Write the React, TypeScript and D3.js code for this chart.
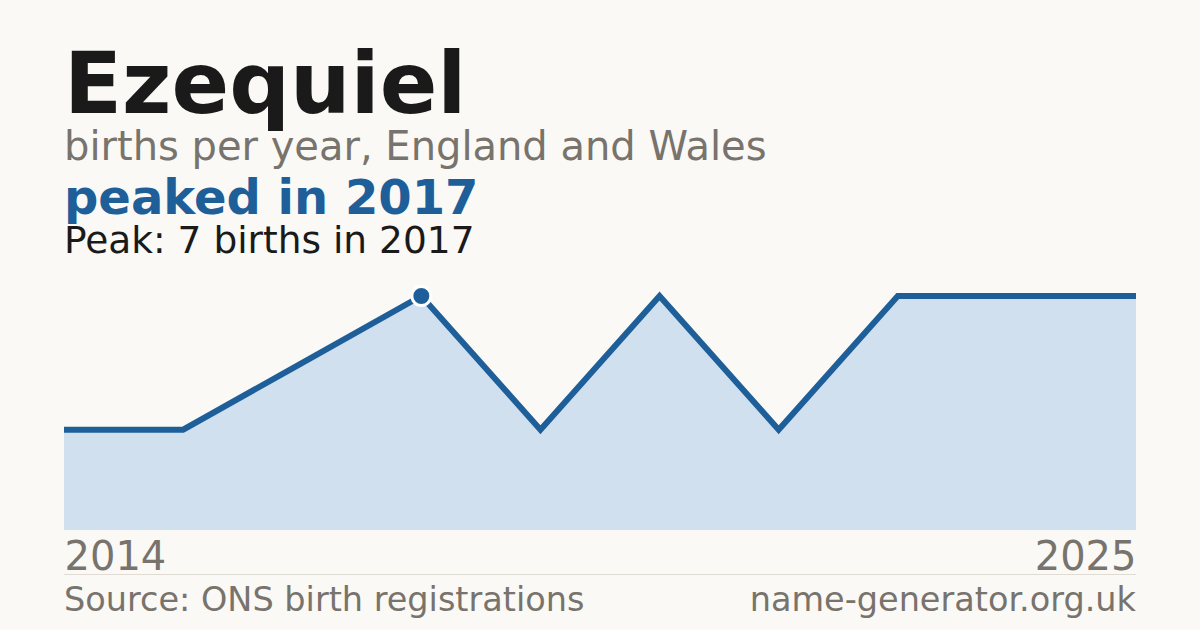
import { useEffect, useRef } from "react";
import * as d3 from "d3";

// years with a published count (gaps are years with fewer than 3 births)
const years = [2014, 2015, 2016, 2017, 2018, 2019, 2021, 2022, 2024, 2025];
const births = [3, 3, 5, 7, 3, 7, 3, 7, 7, 7];

const W = 1200;
const H = 630;
const dims = { left: 64, right: 1136, top: 296, bottom: 530 };

const BG = "#faf9f5";
const BLUE = "#1f5f99";
const GREY = "#78736c";
const FONT = "'DejaVu Sans', sans-serif";

const App = () => {
  const svgRef = useRef(null);

  useEffect(() => {
    document.body.style.margin = "0";
    const svg = d3.select(svgRef.current);
    svg.selectAll("*").remove();

    svg.append("rect").attr("width", W).attr("height", H).attr("fill", BG);

    const data = years.map((y, i) => ({ year: y, value: births[i] }));

    const xScale = d3
      .scalePoint()
      .domain(years.map(String))
      .range([dims.left, dims.right]);
    const yScale = d3
      .scaleLinear()
      .domain([0, d3.max(births)])
      .range([dims.bottom, dims.top]);

    const peakIdx = births.indexOf(d3.max(births));
    const peak = data[peakIdx];

    // header texts
    const text = (x, y, size, weight, fill, str, anchor = "start") =>
      svg
        .append("text")
        .attr("x", x)
        .attr("y", y)
        .attr("font-family", FONT)
        .attr("font-size", size)
        .attr("font-weight", weight)
        .attr("fill", fill)
        .attr("text-anchor", anchor)
        .text(str);

    text(64, 113, 85, "bold", "#1a1a1a", "Ezequiel");
    text(64, 160, 40, "normal", GREY, "births per year, England and Wales");
    text(64, 214, 48, "bold", BLUE, `peaked in ${peak.year}`);
    text(64, 253, 37.5, "normal", "#1a1a1a", `Peak: ${peak.value} births in ${peak.year}`);

    // area + line
    const area = d3
      .area()
      .x((d) => xScale(String(d.year)))
      .y0(yScale(0))
      .y1((d) => yScale(d.value));
    const line = d3
      .line()
      .x((d) => xScale(String(d.year)))
      .y((d) => yScale(d.value));

    svg.append("path").attr("d", area(data)).attr("fill", "#d0e0ef");
    svg
      .append("path")
      .attr("d", line(data))
      .attr("fill", "none")
      .attr("stroke", BLUE)
      .attr("stroke-width", 6);

    // peak marker
    svg
      .append("circle")
      .attr("cx", xScale(String(peak.year)))
      .attr("cy", yScale(peak.value))
      .attr("r", 9.5)
      .attr("fill", BLUE)
      .attr("stroke", "#ffffff")
      .attr("stroke-width", 3);

    // first / last year labels
    const xAxis = d3
      .axisBottom(xScale)
      .tickValues([String(years[0]), String(years[years.length - 1])])
      .tickSize(0)
      .tickPadding(0);
    const g = svg.append("g").attr("transform", `translate(0,${dims.bottom})`).call(xAxis);
    g.select(".domain").remove();
    g.selectAll("text")
      .attr("font-family", FONT)
      .attr("font-size", 40)
      .attr("fill", GREY)
      .attr("dy", 0)
      .attr("y", 40)
      .attr("text-anchor", (d, i) => (i === 0 ? "start" : "end"));

    // footer
    svg
      .append("line")
      .attr("x1", dims.left)
      .attr("x2", dims.right)
      .attr("y1", 574.5)
      .attr("y2", 574.5)
      .attr("stroke", "#e0dbd3")
      .attr("stroke-width", 1);
    text(64, 611, 33.5, "normal", GREY, "Source: ONS birth registrations");
    text(1136, 611, 33.5, "normal", GREY, "name-generator.org.uk", "end");
  }, []);

  return <svg ref={svgRef} width={W} height={H} style={{ display: "block" }}></svg>;
};

export default App;
